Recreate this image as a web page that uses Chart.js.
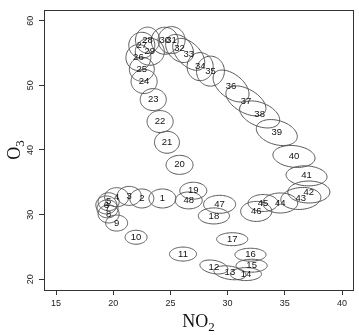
<!DOCTYPE html>
<html>
<head>
<meta charset="utf-8">
<script src="https://cdn.jsdelivr.net/npm/chart.js@4"></script>
<style>
  html, body { margin: 0; padding: 0; background: #fff; }
  #chart { display: block; }
</style>
</head>
<body>
<canvas id="chart" width="359" height="335" style="width:359px;height:335px"></canvas>
<script>
// point labels
const ids = ['1','2','3','4','5','6','7','8','9','10','11','12','13','14','15','16',
    '17','18','19','20','21','22','23','24','25','26','27','28','29','30','31','32',
    '33','34','35','36','37','38','39','40','41','42','43','44','45','46','47','48'];

// centres
const no2 = [24.3, 22.5, 21.4, 20.3, 19.6, 19.4, 19.5, 19.6, 20.3, 22.0, 26.1, 28.8,
    30.2, 31.6, 32.1, 32.0, 30.4, 28.8, 27.0, 25.8, 24.7, 24.1, 23.5, 22.7,
    22.5, 22.2, 22.5, 23.0, 23.2, 24.5, 25.1, 25.8, 26.6, 27.6, 28.5, 30.3,
    31.6, 32.8, 34.3, 35.8, 36.9, 37.1, 36.4, 34.6, 33.1, 32.5, 29.3, 26.6];
const o3 = [32.5, 32.5, 32.9, 32.7, 32.0, 31.5, 30.9, 30.1, 28.7, 26.5, 23.9, 21.9,
    21.0, 20.8, 22.1, 23.8, 26.2, 29.8, 33.7, 37.7, 41.2, 44.4, 47.8, 50.6,
    52.5, 54.3, 56.2, 57.0, 55.2, 56.9, 57.0, 55.7, 54.8, 52.9, 52.2, 49.9,
    47.6, 45.5, 42.7, 39.0, 36.0, 33.5, 32.5, 31.8, 31.8, 30.5, 31.6, 32.2];

// ellipse half extents (data units) and correlation
const spreadNo2 = [1.18, 1.05, 1.05, 1.05, 0.92, 0.92, 0.92, 0.92, 0.96, 0.96, 1.18, 1.22,
    1.40, 1.36, 1.36, 1.36, 1.36, 1.36, 1.18, 1.18, 1.09, 1.14, 1.14, 1.14,
    1.09, 1.09, 1.14, 1.05, 1.27, 1.18, 1.18, 1.22, 1.40, 1.14, 1.22, 1.57,
    1.75, 1.75, 1.79, 1.84, 1.79, 1.84, 1.75, 1.53, 1.31, 1.36, 1.40, 1.18];
const spreadO3 = [1.47, 1.47, 1.47, 1.47, 1.39, 1.39, 1.39, 1.39, 1.24, 1.08, 1.08, 1.08,
    1.08, 1.00, 1.00, 1.00, 1.00, 1.24, 1.31, 1.47, 1.70, 1.70, 1.70, 1.86,
    1.86, 2.01, 2.01, 2.01, 2.09, 2.09, 2.09, 2.17, 2.47, 2.17, 2.32, 2.47,
    2.32, 2.09, 2.01, 1.70, 1.55, 1.70, 1.70, 1.55, 1.31, 1.55, 1.39, 1.31];
const corr = [0, 0, 0, 0, 0, 0, 0, 0, 0, 0, 0, -0.3,
    -0.3, 0, 0, 0, 0, 0, 0, 0, 0, 0, 0, 0,
    0, 0, 0, 0, 0, 0, 0, -0.3, -0.5, 0, 0, -0.5,
    -0.5, -0.4, -0.3, -0.15, -0.1, 0, 0.1, 0, 0, 0, 0, 0];

const xTicks = [15, 20, 25, 30, 35, 40];
const yTicks = [20, 30, 40, 50, 60];

const sans = 'Liberation Sans, Arial, sans-serif';
const serif = 'Liberation Serif, Times New Roman, serif';

function drawSub(ctx, main, sub, x, y) {
    // text with a subscript, centred on x, baseline y
    ctx.font = '18px ' + serif;
    const w1 = ctx.measureText(main).width;
    ctx.font = '13px ' + serif;
    const w2 = ctx.measureText(sub).width;
    const x0 = x - (w1 + w2) / 2;
    ctx.textAlign = 'left';
    ctx.textBaseline = 'alphabetic';
    ctx.font = '18px ' + serif;
    ctx.fillText(main, x0, y);
    ctx.font = '13px ' + serif;
    ctx.fillText(sub, x0 + w1, y + 4);
}

const ellipsePlugin = {
    id: 'ellipses',
    afterDraw(chart) {
        const ctx = chart.ctx;
        const xs = chart.scales.x;
        const ys = chart.scales.y;
        const a = chart.chartArea;

        ctx.save();
        // box
        ctx.strokeStyle = '#333';
        ctx.lineWidth = 1;
        ctx.strokeRect(Math.round(a.left) + 0.5, Math.round(a.top) + 0.5,
            Math.round(a.right - a.left), Math.round(a.bottom - a.top));

        // ellipses
        ctx.strokeStyle = '#555';
        for (let i = 0; i < ids.length; i++) {
            const r = corr[i];
            const s = Math.sqrt(1 - r * r);
            ctx.beginPath();
            for (let k = 0; k <= 72; k++) {
                const t = k / 72 * Math.PI * 2;
                const px = xs.getPixelForValue(no2[i] + spreadNo2[i] * Math.cos(t));
                const py = ys.getPixelForValue(o3[i] + spreadO3[i] * (r * Math.cos(t) + s * Math.sin(t)));
                if (k == 0) ctx.moveTo(px, py); else ctx.lineTo(px, py);
            }
            ctx.closePath();
            ctx.stroke();
        }

        // labels
        ctx.fillStyle = '#111';
        ctx.font = '9.5px ' + sans;
        ctx.textAlign = 'center';
        ctx.textBaseline = 'middle';
        for (let i = 0; i < ids.length; i++) {
            ctx.fillText(ids[i], xs.getPixelForValue(no2[i]), ys.getPixelForValue(o3[i]));
        }

        // y tick labels, rotated like R
        ctx.fillStyle = '#222';
        ctx.font = '9px ' + sans;
        for (const v of yTicks) {
            ctx.save();
            ctx.translate(31, ys.getPixelForValue(v));
            ctx.rotate(-Math.PI / 2);
            ctx.textAlign = 'center';
            ctx.textBaseline = 'middle';
            ctx.fillText(String(v), 0, 0);
            ctx.restore();
        }

        // axis titles
        ctx.fillStyle = '#111';
        drawSub(ctx, 'NO', '2', (a.left + a.right) / 2, 327);
        ctx.save();
        ctx.translate(20, (a.top + a.bottom) / 2);
        ctx.rotate(-Math.PI / 2);
        drawSub(ctx, 'O', '3', 0, 0);
        ctx.restore();
        ctx.restore();
    }
};

const config = {
    type: 'scatter',
    data: {
        datasets: [{
            data: no2.map((v, i) => ({ x: v, y: o3[i] })),
            pointRadius: 0,
            showLine: false,
        }]
    },
    options: {
        responsive: false,
        animation: false,
        devicePixelRatio: 1,
        layout: { padding: { top: 10, right: 6, left: 0, bottom: 0 } },
        plugins: { legend: { display: false }, tooltip: { enabled: false } },
        scales: {
            x: {
                type: 'linear',
                min: 13.95,
                max: 40.96,
                afterBuildTicks: s => { s.ticks = xTicks.map(v => ({ value: v })); },
                afterFit: s => { s.height = 45; },
                grid: { drawOnChartArea: false, drawTicks: true, tickLength: 5, color: '#333', tickColor: '#333' },
                border: { display: false },
                ticks: { font: { family: sans, size: 9 }, color: '#222', padding: 3, maxRotation: 0 },
            },
            y: {
                type: 'linear',
                min: 18.34,
                max: 61.66,
                afterBuildTicks: s => { s.ticks = yTicks.map(v => ({ value: v })); },
                afterFit: s => { s.width = 44; },
                grid: { drawOnChartArea: false, drawTicks: true, tickLength: 5, color: '#333', tickColor: '#333' },
                border: { display: false },
                ticks: { font: { family: sans, size: 9 }, color: 'rgba(0,0,0,0)', padding: 3 },
            }
        }
    },
    plugins: [ellipsePlugin]
};

new Chart(document.getElementById('chart'), config);
</script>
</body>
</html>
